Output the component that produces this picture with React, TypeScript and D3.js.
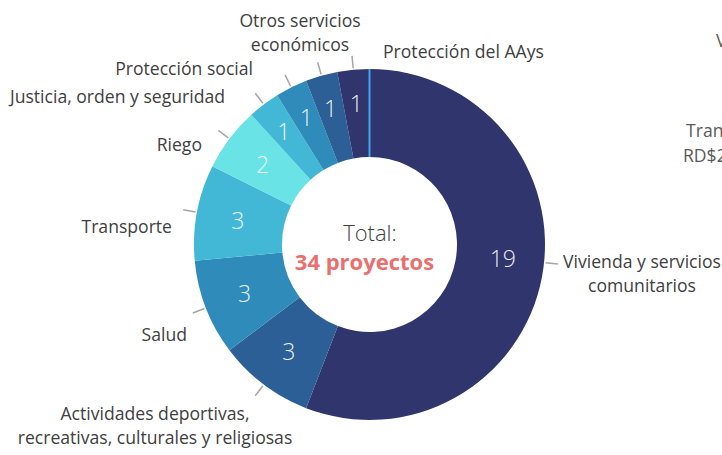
import React from "react";
import * as d3 from "d3";

// ---- data ----
const categories = [
  "Vivienda y servicios comunitarios",
  "Actividades deportivas, recreativas, culturales y religiosas",
  "Salud",
  "Transporte",
  "Riego",
  "Justicia, orden y seguridad",
  "Protección social",
  "Otros servicios económicos",
  "Protección del AAys",
];
const values = [19, 3, 3, 3, 2, 1, 1, 1, 1];
const labelLines = [
  ["Vivienda y servicios", "comunitarios"],
  ["Actividades deportivas,", "recreativas, culturales y religiosas"],
  ["Salud"],
  ["Transporte"],
  ["Riego"],
  ["Justicia, orden y seguridad"],
  ["Protección social"],
  ["Otros servicios", "económicos"],
  ["Protección del AAys"],
];
const totalLabel = "Total:";
const totalUnit = "proyectos";

// ---- styles / layout ----
const W = 722;
const H = 455;
const CX = 369.5;
const CY = 244.5;
const R_OUT = 175.5;
const R_IN = 87.5;
const colors = [
  "#31356e",
  "#2c5f96",
  "#2e8bba",
  "#43b8d6",
  "#6ae3e6",
  "#43b8d6",
  "#2e8bba",
  "#2c5f96",
  "#31356e",
];
const FONT = "'Open Sans', 'Noto Sans', sans-serif";
const TEXT = "#404040";
const LABEL_SIZE = 17.6;

// label placement (anchor, x, first baseline)
const labelLayout: [string, number, number][] = [
  ["middle", 642, 268],
  ["middle", 155, 420],
  ["end", 187, 341],
  ["end", 172, 233],
  ["end", 202, 151],
  ["end", 225, 103],
  ["end", 253, 75],
  ["middle", 300, 27],
  ["start", 383, 58],
];
const angleShift: Record<number, number> = { 0: -4.7 };

export default function App() {
  const pie = d3
    .pie<number>()
    .sort(null)
    .startAngle(0)
    .endAngle(2 * Math.PI);
  const arcs = pie(values);
  const arc = d3.arc<d3.PieArcDatum<number>>().innerRadius(R_IN).outerRadius(R_OUT);
  const polar = (a: number, r: number): [number, number] => [
    CX + r * Math.sin(a),
    CY - r * Math.cos(a),
  ];
  const total = d3.sum(values);

  return (
    <svg
      width={W}
      height={H}
      style={{ position: "absolute", left: 0, top: 0, background: "#fff" }}
      fontFamily={FONT}
    >
      <g transform={`translate(${CX},${CY})`}>
        {arcs.map((d, i) => (
          <path key={i} d={arc(d) || ""} fill={colors[i]}>
            <title>{categories[i]}</title>
          </path>
        ))}
      </g>
      {/* separator at the start of the ring */}
      {(() => {
        const a = arcs[0].startAngle;
        const [x1, y1] = polar(a, R_IN);
        const [x2, y2] = polar(a, R_OUT);
        return <line x1={x1} y1={y1} x2={x2} y2={y2} stroke="#3ba7f0" strokeWidth={2} />;
      })()}
      {/* value labels */}
      {arcs.map((d, i) => {
        const a = (d.startAngle + d.endAngle) / 2 + ((angleShift[i] || 0) * Math.PI) / 180;
        const rr = values[i] > 1 ? 134 : 142;
        const [x, y] = polar(a, rr);
        return (
          <text
            key={i}
            x={x}
            y={y}
            textAnchor="middle"
            dominantBaseline="central"
            fontSize={23}
            fontWeight={300}
            fill="#ffffff"
            fillOpacity={0.92}
          >
            {values[i]}
          </text>
        );
      })}
      {/* leader lines */}
      {arcs.map((d, i) => {
        const a = (d.startAngle + d.endAngle) / 2 + ((angleShift[i] || 0) * Math.PI) / 180;
        const [x1, y1] = polar(a, R_OUT + 1.5);
        const [x2, y2] = polar(a, R_OUT + 14);
        return <line key={i} x1={x1} y1={y1} x2={x2} y2={y2} stroke="#a6a6a6" strokeWidth={1.5} />;
      })}
      {/* category labels */}
      {labelLines.map((lines, i) => {
        const [anchor, x, y] = labelLayout[i];
        return (
          <text key={i} x={x} y={y} textAnchor={anchor as any} fontSize={LABEL_SIZE} fill={TEXT}>
            {lines.map((t, j) => (
              <tspan key={j} x={x} dy={j === 0 ? 0 : 24}>
                {t}
              </tspan>
            ))}
          </text>
        );
      })}
      {/* center */}
      <text x={370} y={241} textAnchor="middle" fontSize={22} fontWeight={300} fill={TEXT}>
        {totalLabel}
      </text>
      <text x={364.5} y={270} textAnchor="middle" fontSize={22} fontWeight={700} fill="#e8706e">
        {`${total} ${totalUnit}`}
      </text>
      {/* clipped neighbouring chart text (cut by the frame, as in the reference) */}
      <text x={716} y={47} fontSize={LABEL_SIZE} fill="#595959">V</text>
      <text x={686} y={137} fontSize={LABEL_SIZE} fill="#595959">Transferencias</text>
      <text x={683} y={162} fontSize={LABEL_SIZE} fill="#595959">RD$2</text>
    </svg>
  );
}
